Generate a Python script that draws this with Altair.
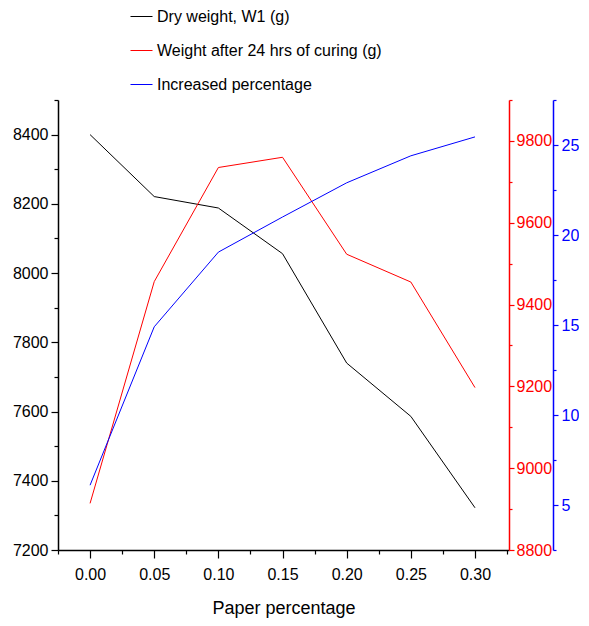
import altair as alt
import pandas as pd

# ---- data ----
paper_pct = [0.00, 0.05, 0.10, 0.15, 0.20, 0.25, 0.30]
dry_weight = [8400, 8221, 8188, 8056, 7740, 7586, 7322]
cured_weight = [8914, 9456, 9735, 9760, 9523, 9455, 9197]
increase_pct = [6.1, 14.9, 19.05, 21.0, 22.9, 24.4, 25.45]

series_names = ["Dry weight, W1 (g)", "Weight after 24 hrs of curing (g)", "Increased percentage"]
series_colors = ["#000000", "#ff0000", "#0000ff"]

x_ticks = [0.00, 0.05, 0.10, 0.15, 0.20, 0.25, 0.30]
x_minor = [-0.025, 0.025, 0.075, 0.125, 0.175, 0.225, 0.275, 0.325]
left_ticks = [7200, 7400, 7600, 7800, 8000, 8200, 8400]
left_minor = [7300, 7500, 7700, 7900, 8100, 8300, 8500]
red_ticks = [8800, 9000, 9200, 9400, 9600, 9800]
red_minor = [8900, 9100, 9300, 9500, 9700, 9900]
blue_ticks = [5, 10, 15, 20, 25]
blue_minor = [2.5, 7.5, 12.5, 17.5, 22.5, 27.5]

rows = []
for name, vals in zip(series_names, [dry_weight, cured_weight, increase_pct]):
    for xv, yv in zip(paper_pct, vals):
        rows.append({"x": xv, "value": yv, "series": name})
df = pd.DataFrame(rows)

FONT = "Liberation Sans, Arial, sans-serif"
TICK_FS = 16
X_DOMAIN = [-0.025, 0.3265]

color_enc = alt.Color(
    "series:N",
    scale=alt.Scale(domain=series_names, range=series_colors),
    legend=alt.Legend(
        orient="none", legendX=72, legendY=-95, title=None,
        symbolType="stroke", symbolSize=484, symbolStrokeWidth=1,
        labelFontSize=16, labelFont=FONT, labelColor="#000", labelLimit=0,
        rowPadding=14, padding=0, labelOffset=4, direction="vertical",
    ),
)


def x_enc(axis):
    return alt.X("x:Q", scale=alt.Scale(domain=X_DOMAIN, nice=False, zero=False), axis=axis)


def y_axis(values, color, orient, tick, labels=True, offset=0, domain=True, pad=3):
    kw = dict(
        values=values, orient=orient, title=None, grid=False, tickSize=tick, tickWidth=1.2,
        tickColor=color, domainColor=color, domainWidth=1.5, domain=domain,
        labels=labels, labelColor=color, labelFont=FONT, labelFontSize=TICK_FS,
        labelPadding=pad, labelFlush=False, labelOverlap=False, offset=offset,
        format="d",
    )
    return alt.Axis(**kw)


def layer(idx, domain, axis, xaxis=None, visible=True):
    name = series_names[idx]
    base = alt.Chart(df).transform_filter(alt.datum.series == name).mark_line(strokeWidth=1)
    enc = dict(
        x=x_enc(xaxis),
        y=alt.Y("value:Q", scale=alt.Scale(domain=domain, nice=False, zero=False), axis=axis),
    )
    if visible:
        enc["color"] = color_enc
    else:
        enc["color"] = alt.value("transparent")
    return base.encode(**enc)


x_main_axis = alt.Axis(
    values=x_ticks, orient="bottom", title="Paper percentage", grid=False, tickSize=8, tickWidth=1.2,
    tickColor="#000", domainColor="#000", domainWidth=1.5, format=".2f",
    labelFont=FONT, labelFontSize=TICK_FS, labelColor="#000", labelPadding=8,
    labelFlush=False, labelOverlap=False,
    titleFont=FONT, titleFontSize=18, titleFontWeight="normal", titleColor="#000", titlePadding=17,
)
x_minor_axis = alt.Axis(
    values=x_minor, orient="bottom", title=None, grid=False, tickSize=4, tickWidth=1.2, tickColor="#000",
    labels=False, domain=False,
)

layers = [
    layer(0, [7200, 8500], y_axis(left_ticks, "#000", "left", 7, pad=3), xaxis=x_main_axis),
    layer(0, [7200, 8500], y_axis(left_minor, "#000", "left", 4, labels=False, domain=False),
          xaxis=x_minor_axis, visible=False),
    layer(1, [8800, 9900], y_axis(red_ticks, "#ff0000", "right", 5, pad=2)),
    layer(1, [8800, 9900], y_axis(red_minor, "#ff0000", "right", 3, labels=False, domain=False), visible=False),
    layer(2, [2.5, 27.5], y_axis(blue_ticks, "#0000ff", "right", 5, offset=44, pad=3)),
    layer(2, [2.5, 27.5], y_axis(blue_minor, "#0000ff", "right", 3, labels=False, offset=44, domain=False),
          visible=False),
]

chart = (
    alt.layer(*layers)
    .resolve_scale(y="independent", x="independent")
    .properties(
        width=451, height=450,
        autosize=alt.AutoSizeParams(type="none"),
        padding={"left": 50, "top": 92, "right": 70, "bottom": 68},
    )
    .configure_view(stroke=None)
)

chart.save("out.html", embed_options={"renderer": "svg", "actions": False})
